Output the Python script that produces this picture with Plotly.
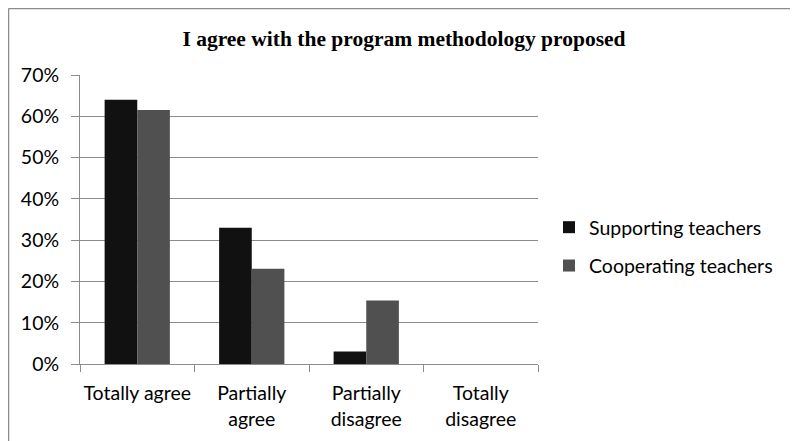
import plotly.graph_objects as go

categories = ["Totally agree", "Partially<br>agree", "Partially<br>disagree", "Totally<br>disagree"]
supporting = [0.64, 0.33, 0.03, 0.0]
cooperating = [0.615, 0.231, 0.154, 0.0]
series_names = ["Supporting teachers", "Cooperating teachers"]
colors = ["#111111", "#505050"]
y_ticks = [0, 0.1, 0.2, 0.3, 0.4, 0.5, 0.6, 0.7]
title = "I agree with the program methodology proposed"

# page body has an 8px margin: figure origin sits at screen (8, 8)
OFF = 8
W, H = 790, 433
L, R, T, B = 72, 260, 67, 77
pw, ph = W - L - R, H - T - B


def px_x(p):
    return (p - OFF - L) / pw


def px_y(p):
    return (H - B - (p - OFF)) / ph


fig = go.Figure()
for name, vals, col, grp in zip(series_names, [supporting, cooperating], colors, ["a", "b"]):
    fig.add_trace(go.Bar(x=categories, y=vals, name=name, marker=dict(color=col, line=dict(width=0)),
                         legendgroup=grp))

line_col = "#8c8c8c"
shapes = [
    dict(type="line", xref="paper", yref="paper", x0=px_x(8.5), x1=px_x(797), y0=px_y(8.5), y1=px_y(8.5),
         line=dict(color=line_col, width=1.5)),
    dict(type="line", xref="paper", yref="paper", x0=px_x(8.5), x1=px_x(8.5), y0=px_y(8.5), y1=px_y(445),
         line=dict(color=line_col, width=1.5)),
]

fig.update_layout(
    width=W, height=H,
    margin=dict(l=L, r=R, t=T, b=B, autoexpand=False),
    paper_bgcolor="white", plot_bgcolor="white",
    barmode="group", bargap=0.43, bargroupgap=0,
    title=dict(text="<b>" + title + "</b>", x=(404 - OFF) / W, xanchor="center", y=1 - (38 - OFF) / H,
               yanchor="middle", font=dict(family="Liberation Serif", size=21.5, color="#000000")),
    font=dict(family="Lato", size=19.5, color="#000000"),
    xaxis=dict(showline=True, linecolor=line_col, linewidth=1, ticks="outside", tickson="boundaries",
               ticklen=7, tickcolor=line_col, tickfont=dict(family="Lato", size=19.5),
               ticklabelstandoff=12, tickangle=0),
    yaxis=dict(range=[0, 0.7], tickvals=y_ticks, tickformat=".0%", showgrid=True, gridcolor=line_col,
               gridwidth=1, showline=True, linecolor=line_col, linewidth=1, ticks="outside", ticklen=8,
               tickcolor=line_col, tickfont=dict(family="Lato", size=19.5), zeroline=False,
               ticklabelstandoff=8),
    legend=dict(x=px_x(549), y=px_y(208), xanchor="left", yanchor="top", traceorder="grouped",
                tracegroupgap=10, font=dict(family="Lato", size=19.5), itemwidth=30,
                bgcolor="rgba(0,0,0,0)"),
    showlegend=True,
    shapes=shapes,
)

fig.write_html("out.html")
